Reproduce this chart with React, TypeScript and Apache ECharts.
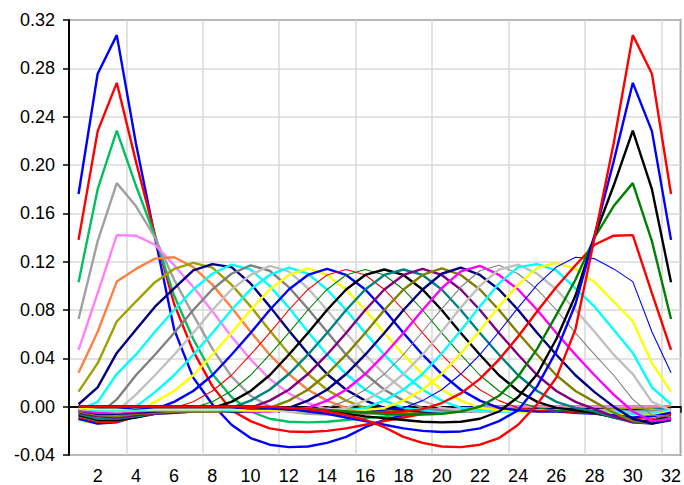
import React, { useEffect, useRef } from "react";
import * as echarts from "echarts";

const categories = ["1","2","3","4","5","6","7","8","9","10","11","12","13","14","15","16","17","18","19","20","21","22","23","24","25","26","27","28","29","30","31","32"];

const s01 = [0.176, 0.2755, 0.3075, 0.218, 0.140, 0.064, 0.024, 0.002, -0.015, -0.026, -0.0315, -0.0335, -0.033, -0.030, -0.025, -0.017, -0.011, -0.007, -0.004, -0.002, -0.001, 0, 0, 0, 0, 0, 0, 0, 0, 0, 0, 0];
const s02 = [0.138, 0.228, 0.268, 0.203, 0.142, 0.085, 0.046, 0.017, -0.003, -0.012, -0.018, -0.0205, -0.021, -0.020, -0.018, -0.015, -0.012, -0.009, -0.006, -0.004, -0.002, -0.001, 0, 0, 0, 0, 0, 0, 0, 0, 0, 0];
const s03 = [0.103, 0.180, 0.2285, 0.183, 0.141, 0.092, 0.056, 0.027, 0.008, -0.004, -0.010, -0.0125, -0.013, -0.0125, -0.011, -0.0095, -0.008, -0.006, -0.004, -0.003, -0.002, -0.001, 0, 0, 0, 0, 0, 0, 0, 0, 0, 0];
const s04 = [0.0725, 0.137, 0.185, 0.166, 0.140, 0.105, 0.076, 0.048, 0.025, 0.009, 0.000, -0.004, -0.006, -0.0065, -0.0065, -0.006, -0.005, -0.004, -0.003, -0.002, -0.002, -0.001, 0, 0, 0, 0, 0, 0, 0, 0, 0, 0];
const s05 = [0.047, 0.094, 0.142, 0.1415, 0.134, 0.117, 0.099, 0.079, 0.058, 0.039, 0.023, 0.011, 0.003, -0.002, -0.004, -0.0045, -0.0045, -0.004, -0.003, -0.002, -0.002, -0.001, -0.001, 0, 0, 0, 0, 0, 0, 0, 0, 0];
const s06 = [0.028, 0.062, 0.1035, 0.114, 0.1225, 0.1237, 0.1155, 0.101, 0.082, 0.062, 0.043, 0.027, 0.014, 0.005, -0.001, -0.003, -0.004, -0.004, -0.004, -0.003, -0.003, -0.002, -0.002, -0.001, -0.001, -0.001, -0.001, -0.001, -0.002, -0.001, -0.001, 0.000];
const s07 = [0.0125, 0.036, 0.0705, 0.087, 0.103, 0.114, 0.119, 0.115, 0.101, 0.083, 0.063, 0.044, 0.027, 0.014, 0.005, -0.001, -0.003, -0.004, -0.004, -0.004, -0.003, -0.003, -0.003, -0.002, -0.002, -0.002, -0.002, -0.002, -0.002, -0.002, -0.002, -0.001];
const s08 = [0.002, 0.016, 0.0445, 0.0636, 0.0827, 0.0978, 0.1128, 0.118, 0.1155, 0.102, 0.083, 0.063, 0.044, 0.027, 0.014, 0.005, -0.001, -0.003, -0.004, -0.004, -0.003, -0.003, -0.003, -0.003, -0.002, -0.002, -0.002, -0.002, -0.003, -0.003, -0.003, -0.001];
const s09 = [-0.003, 0.004, 0.027, 0.043, 0.062, 0.080, 0.097, 0.110, 0.1175, 0.1135, 0.100, 0.082, 0.062, 0.043, 0.027, 0.014, 0.005, -0.001, -0.003, -0.004, -0.004, -0.003, -0.003, -0.003, -0.003, -0.003, -0.003, -0.003, -0.003, -0.004, -0.003, -0.002];
const s10 = [-0.008, -0.007, 0.006, 0.026, 0.043, 0.061, 0.080, 0.097, 0.110, 0.117, 0.1125, 0.099, 0.081, 0.062, 0.043, 0.027, 0.014, 0.005, -0.001, -0.003, -0.004, -0.004, -0.003, -0.003, -0.003, -0.003, -0.003, -0.003, -0.004, -0.004, -0.004, -0.002];
const s11 = [-0.010, -0.012, -0.004, 0.010, 0.026, 0.043, 0.061, 0.080, 0.097, 0.109, 0.1165, 0.112, 0.098, 0.080, 0.061, 0.043, 0.027, 0.014, 0.005, -0.001, -0.003, -0.004, -0.004, -0.003, -0.003, -0.003, -0.003, -0.003, -0.004, -0.005, -0.005, -0.003];
const s12 = [-0.011, -0.014, -0.010, 0.000, 0.012, 0.026, 0.043, 0.061, 0.080, 0.097, 0.109, 0.115, 0.110, 0.097, 0.080, 0.061, 0.043, 0.027, 0.014, 0.005, -0.001, -0.003, -0.004, -0.004, -0.003, -0.003, -0.003, -0.004, -0.005, -0.006, -0.006, -0.003];
const s13 = [-0.011, -0.014, -0.012, -0.005, 0.004, 0.013, 0.026, 0.043, 0.061, 0.080, 0.097, 0.109, 0.1145, 0.109, 0.097, 0.080, 0.061, 0.043, 0.027, 0.014, 0.005, -0.001, -0.003, -0.004, -0.004, -0.004, -0.004, -0.005, -0.006, -0.008, -0.007, -0.004];
const s14 = [-0.010, -0.014, -0.013, -0.008, -0.002, 0.004, 0.013, 0.026, 0.043, 0.061, 0.080, 0.097, 0.109, 0.114, 0.109, 0.097, 0.080, 0.061, 0.043, 0.027, 0.014, 0.005, -0.001, -0.003, -0.004, -0.004, -0.005, -0.006, -0.007, -0.009, -0.008, -0.005];
const s15 = [-0.009, -0.013, -0.013, -0.009, -0.004, -0.001, 0.004, 0.013, 0.026, 0.043, 0.061, 0.080, 0.097, 0.109, 0.1135, 0.109, 0.097, 0.080, 0.061, 0.043, 0.027, 0.014, 0.005, -0.001, -0.003, -0.004, -0.005, -0.006, -0.008, -0.010, -0.010, -0.006];
const s16 = [-0.008, -0.012, -0.012, -0.009, -0.005, -0.003, -0.001, 0.004, 0.013, 0.026, 0.043, 0.061, 0.080, 0.097, 0.109, 0.1135, 0.109, 0.097, 0.080, 0.061, 0.043, 0.026, 0.013, 0.004, -0.001, -0.003, -0.004, -0.006, -0.009, -0.011, -0.011, -0.007];
const s17 = [-0.007, -0.011, -0.011, -0.009, -0.006, -0.004, -0.003, -0.001, 0.004, 0.013, 0.026, 0.043, 0.061, 0.080, 0.097, 0.109, 0.1135, 0.109, 0.097, 0.080, 0.061, 0.043, 0.026, 0.013, 0.004, -0.001, -0.003, -0.005, -0.009, -0.012, -0.012, -0.008];
const s18 = [-0.006, -0.010, -0.010, -0.008, -0.006, -0.005, -0.004, -0.003, -0.001, 0.005, 0.014, 0.027, 0.043, 0.061, 0.080, 0.097, 0.109, 0.1135, 0.109, 0.097, 0.080, 0.061, 0.043, 0.026, 0.013, 0.004, -0.001, -0.004, -0.009, -0.013, -0.013, -0.009];
const s19 = [-0.005, -0.008, -0.009, -0.007, -0.006, -0.005, -0.004, -0.004, -0.003, -0.001, 0.005, 0.014, 0.027, 0.043, 0.061, 0.080, 0.097, 0.109, 0.114, 0.109, 0.097, 0.080, 0.061, 0.043, 0.026, 0.013, 0.004, -0.002, -0.008, -0.013, -0.014, -0.010];
const s20 = [-0.004, -0.007, -0.008, -0.006, -0.005, -0.004, -0.004, -0.004, -0.004, -0.003, -0.001, 0.005, 0.014, 0.027, 0.043, 0.061, 0.080, 0.097, 0.109, 0.1145, 0.109, 0.097, 0.080, 0.061, 0.043, 0.026, 0.013, 0.004, -0.005, -0.012, -0.014, -0.011];
const s21 = [-0.003, -0.006, -0.006, -0.005, -0.004, -0.003, -0.003, -0.003, -0.004, -0.004, -0.003, -0.001, 0.005, 0.014, 0.027, 0.043, 0.061, 0.080, 0.097, 0.110, 0.115, 0.109, 0.097, 0.080, 0.061, 0.043, 0.026, 0.012, 0.000, -0.010, -0.014, -0.011];
const s22 = [-0.003, -0.005, -0.005, -0.004, -0.003, -0.003, -0.003, -0.003, -0.003, -0.004, -0.004, -0.003, -0.001, 0.005, 0.014, 0.027, 0.043, 0.061, 0.080, 0.098, 0.112, 0.1165, 0.109, 0.097, 0.080, 0.061, 0.043, 0.026, 0.010, -0.004, -0.012, -0.010];
const s23 = [-0.002, -0.004, -0.004, -0.004, -0.003, -0.003, -0.003, -0.003, -0.003, -0.003, -0.004, -0.004, -0.003, -0.001, 0.005, 0.014, 0.027, 0.043, 0.062, 0.081, 0.099, 0.1125, 0.117, 0.110, 0.097, 0.080, 0.061, 0.043, 0.026, 0.006, -0.007, -0.008];
const s24 = [-0.002, -0.003, -0.004, -0.003, -0.003, -0.003, -0.003, -0.003, -0.003, -0.003, -0.003, -0.004, -0.004, -0.003, -0.001, 0.005, 0.014, 0.027, 0.043, 0.062, 0.082, 0.100, 0.1135, 0.1175, 0.110, 0.097, 0.080, 0.062, 0.043, 0.027, 0.004, -0.003];
const s25 = [-0.001, -0.003, -0.003, -0.003, -0.002, -0.002, -0.002, -0.002, -0.003, -0.003, -0.003, -0.003, -0.004, -0.004, -0.003, -0.001, 0.005, 0.014, 0.027, 0.044, 0.063, 0.083, 0.102, 0.1155, 0.118, 0.1128, 0.0978, 0.0827, 0.0636, 0.0445, 0.016, 0.002];
const s26 = [-0.001, -0.002, -0.002, -0.002, -0.002, -0.002, -0.002, -0.002, -0.002, -0.003, -0.003, -0.003, -0.004, -0.004, -0.004, -0.003, -0.001, 0.005, 0.014, 0.027, 0.044, 0.063, 0.083, 0.101, 0.115, 0.119, 0.114, 0.103, 0.087, 0.0705, 0.036, 0.0125];
const s27 = [0.000, -0.001, -0.001, -0.002, -0.001, -0.001, -0.001, -0.001, -0.001, -0.002, -0.002, -0.003, -0.003, -0.004, -0.004, -0.004, -0.003, -0.001, 0.005, 0.014, 0.027, 0.043, 0.062, 0.082, 0.101, 0.1155, 0.1237, 0.1225, 0.114, 0.1035, 0.062, 0.028];
const s28 = [0, 0, 0, 0, 0, 0, 0, 0, 0, -0.001, -0.001, -0.002, -0.002, -0.003, -0.004, -0.0045, -0.0045, -0.004, -0.002, 0.003, 0.011, 0.023, 0.039, 0.058, 0.079, 0.099, 0.117, 0.134, 0.1415, 0.142, 0.094, 0.047];
const s29 = [0, 0, 0, 0, 0, 0, 0, 0, 0, 0, -0.001, -0.002, -0.002, -0.003, -0.004, -0.005, -0.006, -0.0065, -0.0065, -0.006, -0.004, 0.000, 0.009, 0.025, 0.048, 0.076, 0.105, 0.140, 0.166, 0.185, 0.137, 0.0725];
const s30 = [0, 0, 0, 0, 0, 0, 0, 0, 0, 0, -0.001, -0.002, -0.003, -0.004, -0.006, -0.008, -0.0095, -0.011, -0.0125, -0.013, -0.0125, -0.010, -0.004, 0.008, 0.027, 0.056, 0.092, 0.141, 0.183, 0.2285, 0.180, 0.103];
const s31 = [0, 0, 0, 0, 0, 0, 0, 0, 0, 0, -0.001, -0.002, -0.004, -0.006, -0.009, -0.012, -0.015, -0.018, -0.020, -0.021, -0.0205, -0.018, -0.012, -0.003, 0.017, 0.046, 0.085, 0.142, 0.203, 0.268, 0.228, 0.138];
const s32 = [0, 0, 0, 0, 0, 0, 0, 0, 0, 0, 0, -0.001, -0.002, -0.004, -0.007, -0.011, -0.017, -0.025, -0.030, -0.033, -0.0335, -0.0315, -0.026, -0.015, 0.002, 0.024, 0.064, 0.140, 0.218, 0.3075, 0.2755, 0.176];

const seriesValues = [s01, s02, s03, s04, s05, s06, s07, s08, s09, s10, s11, s12, s13, s14, s15, s16,
  s17, s18, s19, s20, s21, s22, s23, s24, s25, s26, s27, s28, s29, s30, s31, s32];

const yTicks = [-0.04, 0, 0.04, 0.08, 0.12, 0.16, 0.2, 0.24, 0.28, 0.32];

const lineColors = [
  "#0000ff", "#ff0000", "#00c060", "#a0a0a0", "#ff80ff", "#ff8040", "#a0a000", "#000080",
  "#00ffff", "#808080", "#c0c0c0", "#00ffff", "#ffff00", "#0000ff", "#ff0000", "#008000",
  "#000000", "#008080", "#800080", "#808000", "#000080", "#ff00ff", "#808080", "#c0c0c0",
  "#00ffff", "#ffff00", "#0000ff", "#ff0000", "#008000", "#000000", "#0000ff", "#ff0000",
];
const lineWidths = [
  2.4, 2.4, 2.4, 2.4, 2.4, 2.4, 2.4, 2.4,
  2.4, 2.4, 2.4, 2.4, 2.4, 2.4, 1.1, 1.1,
  2.4, 2.4, 2.4, 2.4, 2.4, 2.4, 1.1, 2.4,
  2.4, 2.4, 1.1, 2.4, 2.4, 2.4, 2.4, 2.4,
];

const FONT = 'Arial, "Liberation Sans", sans-serif';

export default function App() {
  const ref = useRef<HTMLDivElement>(null);
  useEffect(() => {
    document.body.style.margin = "0";
    if (!ref.current) return;
    const chart = echarts.init(ref.current, undefined, { renderer: "svg" });
    const option: any = {
      animation: false,
      backgroundColor: "#ffffff",
      grid: {
        left: 69,
        right: 1,
        top: 20,
        bottom: 25,
        show: true,
        borderColor: "#222",
        borderWidth: 1.5,
        backgroundColor: "transparent",
      },
      xAxis: {
        type: "category",
        data: categories,
        boundaryGap: true,
        axisLine: { show: true, lineStyle: { color: "#000", width: 2 } },
        axisTick: { show: true, interval: 0, length: 6, lineStyle: { color: "#000", width: 1.5 } },
        axisLabel: {
          interval: (i: number) => i % 2 === 1,
          color: "#000",
          fontSize: 18,
          fontFamily: FONT,
          margin: 12,
        },
        splitLine: {
          show: true,
          interval: (i: number) => i % 4 === 3,
          lineStyle: { color: "#d8d8d8", width: 1.5 },
        },
      },
      yAxis: {
        type: "value",
        min: yTicks[0],
        max: yTicks[yTicks.length - 1],
        interval: 0.04,
        axisLine: { show: true, lineStyle: { color: "#000", width: 2 } },
        axisTick: { show: true, length: 6, lineStyle: { color: "#000", width: 1.5 } },
        axisLabel: {
          color: "#000",
          fontSize: 18,
          fontFamily: FONT,
          margin: 14,
          formatter: (v: number) => (Math.abs(v) < 1e-9 ? "0.00" : v.toFixed(2)),
        },
        splitLine: { show: true, lineStyle: { color: "#d8d8d8", width: 1.5 } },
      },
      series: seriesValues.map((vals, i) => ({
        type: "line",
        name: "S" + (i + 1),
        data: vals,
        symbol: "none",
        silent: true,
        lineStyle: { color: lineColors[i], width: lineWidths[i] },
        itemStyle: { color: lineColors[i] },
      })),
    };
    chart.setOption(option);
    return () => chart.dispose();
  }, []);
  return <div ref={ref} style={{ width: 684, height: 485 }} />;
}
